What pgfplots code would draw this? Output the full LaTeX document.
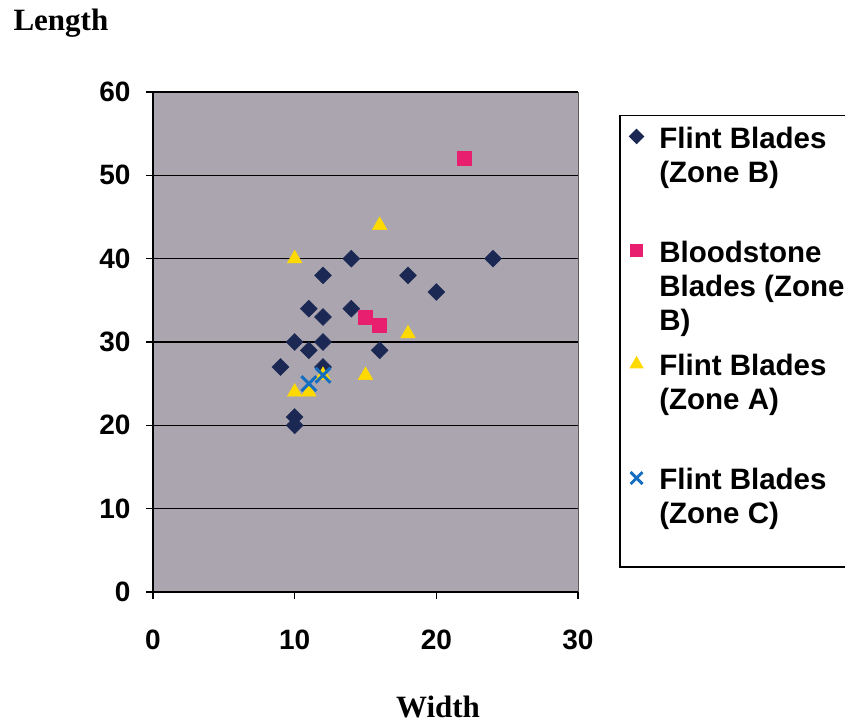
\documentclass[border=0pt]{standalone}
\usepackage{fontspec}
\setmainfont{Liberation Sans}
\newfontfamily\timesbf{Liberation Serif}
\usepackage{pgfplots}
\pgfplotsset{compat=1.18}

\definecolor{plotgray}{RGB}{170,165,175}
\definecolor{zoneb}{RGB}{28,40,84}
\definecolor{bloodstone}{RGB}{232,30,110}
\definecolor{zonea}{RGB}{255,218,0}
\definecolor{zonec}{RGB}{22,110,192}

% legend image raised so the marker sits beside the first line of the entry
\pgfplotsset{
  mk/.style={only marks,
    legend image code/.code={\draw[mark repeat=2,mark phase=2,##1,every mark/.append style={scale=0.8}]
      plot coordinates {(0pt,34pt)(8pt,34pt)(16pt,34pt)};}},
}

\begin{document}
\begin{tikzpicture}
\begin{axis}[
  at={(0pt,0pt)}, anchor=south west,
  width=425pt, height=500pt, scale only axis,
  xmin=0, xmax=30, ymin=0, ymax=60,
  xtick={0,10,20,30}, ytick={0,10,...,60},
  axis x line*=bottom, axis y line*=left,
  axis line style={black, line width=1.5pt, -},
  tick align=outside, major tick length=7pt,
  tick style={black, line width=1.5pt},
  ymajorgrids, grid style={black, line width=1.5pt},
  axis background/.style={fill=plotgray},
  /pgf/number format/assume math mode=true,
  ticklabel style={font=\fontsize{28}{34}\selectfont\bfseries},
  xticklabel style={yshift=-27pt},
  yticklabel style={xshift=-12pt},
  clip=false,
  legend style={at={(rel axis cs:1.0965,0.954)}, anchor=north west,
    draw=black, line width=1.5pt, fill=white, inner xsep=10pt, inner ysep=9pt,
    row sep=22.5pt, column sep=14pt,
    font=\fontsize{29.5}{34}\selectfont\bfseries,
    nodes={inner sep=2pt}},
  legend cell align=left,
]

% Flint Blades (Zone B)
\addplot[mk, mark=square*, mark size=6pt, mark options={rotate=45, fill=zoneb, draw=zoneb}]
coordinates {
  (9,27) (10,30) (10,21) (10,20) (11,34) (11,29)
  (12,38) (12,33) (12,30) (12,27) (14,40) (14,34)
  (16,29) (18,38) (20,36) (24,40)
};
\addlegendentry[text depth=66pt]{\parbox[t]{200pt}{Flint Blades\\(Zone B)}}

% Bloodstone Blades (Zone B)
\addplot[mk, mark=square*, mark size=7pt, mark options={fill=bloodstone, draw=bloodstone}]
coordinates {
  (22,52) (15,33) (16,32)
};
\addlegendentry[text depth=66pt]{\parbox[t]{200pt}{Bloodstone\\Blades (Zone\\B)}}

% Flint Blades (Zone A)
\addplot[mk, mark=triangle*, mark size=8.5pt, mark options={fill=zonea, draw=zonea}]
coordinates {
  (10,40) (16,44) (18,31) (15,26) (10,24) (11,24) (12,26)
};
\addlegendentry[text depth=66pt]{\parbox[t]{200pt}{Flint Blades\\(Zone A)}}

% Flint Blades (Zone C)
\addplot[mk, mark=x, mark size=10.5pt, mark options={draw=zonec, line width=3pt}]
coordinates {
  (11,25) (12,26)
};
\addlegendentry[text depth=66pt]{\parbox[t]{200pt}{Flint Blades\\(Zone C)}}

\draw[gray!70!black, line width=0.8pt] (rel axis cs:1,0) -- (rel axis cs:1,1);
\end{axis}

\node[anchor=base west, font=\timesbf\fontsize{31}{36}\selectfont\bfseries] at (-143pt,561pt) {Length};
\node[anchor=base, font=\timesbf\fontsize{31}{36}\selectfont\bfseries] at (285pt,-125pt) {Width};

\pgfresetboundingbox
\path[use as bounding box] (-153pt,-133pt) rectangle (692pt,592pt);
\end{tikzpicture}
\end{document}
